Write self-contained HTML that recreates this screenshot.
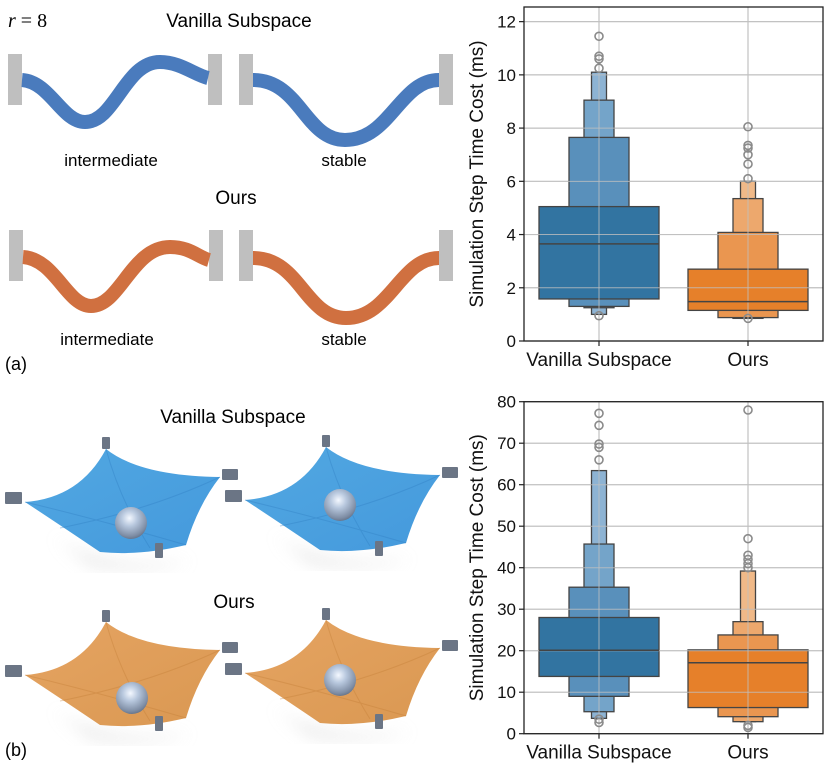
<!DOCTYPE html>
<html><head><meta charset="utf-8"><style>
body{margin:0;background:#fff;width:830px;height:768px;overflow:hidden;font-family:"Liberation Sans",sans-serif}
svg{position:absolute;left:0;top:0}
</style></head><body>
<svg id="fig" width="830" height="768" font-family="Liberation Sans, sans-serif">
<defs>
<radialGradient id="ball" cx="0.45" cy="0.35" r="0.7"><stop offset="0" stop-color="#f4f8ff"/><stop offset="0.35" stop-color="#b8c8de"/><stop offset="0.8" stop-color="#7f8ea5"/><stop offset="1" stop-color="#5d6a80"/></radialGradient>
<linearGradient id="blueCloth" x1="0" y1="0" x2="1" y2="1"><stop offset="0" stop-color="#52a8e2"/><stop offset="1" stop-color="#4499dc"/></linearGradient>
<linearGradient id="orCloth" x1="0" y1="0" x2="1" y2="1"><stop offset="0" stop-color="#e5a462"/><stop offset="1" stop-color="#da9852"/></linearGradient>
<filter id="blur"><feGaussianBlur stdDeviation="8"/></filter>
</defs>

<g>
<text x="8" y="27" font-size="20" font-family="Liberation Serif, serif" font-style="italic">r <tspan font-style="normal">= 8</tspan></text>
<text x="239" y="27" font-size="19" text-anchor="middle">Vanilla Subspace</text>
<g fill="#bfbfbf">
<rect x="8" y="54" width="14" height="51"/><rect x="208" y="54" width="14" height="51"/>
<rect x="239" y="54" width="14" height="51"/><rect x="439" y="54" width="14" height="51"/>
<rect x="9" y="230" width="14" height="51"/><rect x="209" y="230" width="14" height="51"/>
<rect x="239" y="230" width="14" height="51"/><rect x="439" y="230" width="14" height="51"/>
</g>
<g fill="none" stroke-width="14">
<path d="M22,80 C50,82 62,122 85,122 C115,122 125,62 160,62 C180,62 195,75 208,78" stroke="#4a7bbd"/>
<path d="M253,80 C300,80 305,140 345,140 C390,140 400,80 439,80" stroke="#4a7bbd"/>
<path d="M23,257 C55,259 67,306 91,306 C120,306 132,247 170,247 C190,247 198,257 209,260" stroke="#d07040"/>
<path d="M253,258 C300,258 305,318 346,318 C390,318 400,258 439,258" stroke="#d07040"/>
</g>
<text x="111" y="166" font-size="17" text-anchor="middle">intermediate</text>
<text x="344" y="166" font-size="17" text-anchor="middle">stable</text>
<text x="236" y="204" font-size="19" text-anchor="middle">Ours</text>
<text x="107" y="345" font-size="17" text-anchor="middle">intermediate</text>
<text x="344" y="345" font-size="17" text-anchor="middle">stable</text>
<text x="5" y="370" font-size="18">(a)</text>
</g>

<g id="panelb">
<text x="233" y="423" font-size="19" text-anchor="middle">Vanilla Subspace</text>
<text x="234" y="608" font-size="19" text-anchor="middle">Ours</text>
<text x="5" y="756" font-size="18">(b)</text>
</g>

<g id="chart1"></g>
<g id="chart2"></g>
</svg>
<script>
const categories = ["Vanilla Subspace", "Ours"];
const topVanillaLevels = [[1.58, 5.05], [1.3, 7.65], [1.25, 9.05], [1.0, 10.1]];
const topVanillaMedian = 3.65;
const topVanillaOutliers = [11.45, 10.7, 10.6, 10.25, 0.95];
const topOursLevels = [[1.15, 2.7], [0.88, 4.08], [0.85, 5.35], [0.85, 6.0]];
const topOursMedian = 1.48;
const topOursOutliers = [8.05, 7.35, 7.25, 7.0, 6.65, 6.1, 0.85];
const topTicks = [0, 2, 4, 6, 8, 10, 12];
const botVanillaLevels = [[13.8, 28], [9, 35.3], [5.3, 45.7], [3.7, 63.4]];
const botVanillaMedian = 20.1;
const botVanillaOutliers = [77.2, 74.3, 69.8, 69, 66, 3.5, 2.7];
const botOursLevels = [[6.3, 20.2], [4.1, 23.8], [2.9, 27], [2.9, 39.2]];
const botOursMedian = 17.1;
const botOursOutliers = [78, 47, 43, 42, 41, 40, 2, 1.5];
const botTicks = [0, 10, 20, 30, 40, 50, 60, 70, 80];

const NS = "http://www.w3.org/2000/svg";
function mk(tag, attrs, parent) {
  const e = document.createElementNS(NS, tag);
  for (const k in attrs) e.setAttribute(k, attrs[k]);
  parent.appendChild(e);
  return e;
}
const blues = ["#3274a1", "#5990bb", "#74a4c9", "#8db3d3"];
const oranges = ["#e6802a", "#ea9650", "#eda86d", "#f0b988"];
const halfW = [60, 30, 15, 7.5];

function drawChart(g, top, bottom, yMax, ticks, levelsArr, medians, outliersArr) {
  const L = 524, R = 823;
  const y = v => bottom - v / yMax * (bottom - top);
  const centers = [599, 748];
  ticks.forEach(t => {
    const gl = mk("line", {x1: L, x2: R, y1: y(t), y2: y(t), stroke: "#c8c8c8", "stroke-width": 1.2}, g);
    
    
  });
  centers.forEach(cx => {
    const vl = mk("line", {x1: cx, x2: cx, y1: top, y2: bottom, stroke: "#c8c8c8", "stroke-width": 1.2}, g);
    
    
  });
  levelsArr.forEach((levels, ci) => {
    const cols = ci === 0 ? blues : oranges;
    for (let li = levels.length - 1; li >= 0; li--) {
      const [lo, hi] = levels[li];
      const r = mk("rect", {x: centers[ci] - halfW[li], width: halfW[li] * 2, y: y(hi), height: y(lo) - y(hi), fill: cols[li], stroke: "#444", "stroke-width": 1.3}, g);
      
      
    }
  });
  centers.forEach(cx => {
    const vl = mk("line", {x1: cx, x2: cx, y1: top, y2: bottom, stroke: "#c0c0c0", "stroke-width": 1, opacity: 0.8}, g);
    
    
  });
  ticks.forEach(t => {
    const gl = mk("line", {x1: L, x2: R, y1: y(t), y2: y(t), stroke: "#c0c0c0", "stroke-width": 1, opacity: 0.8}, g);
    
    
  });
  medians.forEach((m, ci) => {
    const ml = mk("line", {x1: centers[ci] - 60, x2: centers[ci] + 60, y1: y(m), y2: y(m), stroke: "#444", "stroke-width": 1.5}, g);
    
    
  });
  outliersArr.forEach((os, ci) => {
    os.forEach(v => {
      const c = mk("circle", {cx: centers[ci], cy: y(v), r: 4, fill: "none", stroke: "#8a8a8a", "stroke-width": 1.6}, g);
      
      
    });
  });
  const fr = mk("rect", {x: L, y: top, width: R - L, height: bottom - top, fill: "none", stroke: "#222", "stroke-width": 1.3}, g);
  
  
  ticks.forEach(t => {
    const tk = mk("line", {x1: L - 5, x2: L, y1: y(t), y2: y(t), stroke: "#222", "stroke-width": 1.2}, g);
    
    
    const tl = mk("text", {x: L - 8, y: y(t) + 6, "font-size": 17, "text-anchor": "end", fill: "#111"}, g);
    tl.textContent = t;
    
    
  });
  categories.forEach((c, ci) => {
    const tk = mk("line", {x1: centers[ci], x2: centers[ci], y1: bottom, y2: bottom + 5, stroke: "#222", "stroke-width": 1.2}, g);
    
    
    const tl = mk("text", {x: centers[ci], y: bottom + 25, "font-size": 19, "text-anchor": "middle", fill: "#111"}, g);
    tl.textContent = c;
    
    
  });
  const yt = mk("text", {x: 0, y: 0, "font-size": 19, "text-anchor": "middle", fill: "#111", transform: `translate(483,${(top + bottom) / 2}) rotate(-90)`}, g);
  yt.textContent = "Simulation Step Time Cost (ms)";
  
  
}
drawChart(document.getElementById("chart1"), 7, 341, 12.55, topTicks,
  [topVanillaLevels, topOursLevels], [topVanillaMedian, topOursMedian], [topVanillaOutliers, topOursOutliers]);
drawChart(document.getElementById("chart2"), 401.7, 733.7, 80, botTicks,
  [botVanillaLevels, botOursLevels], [botVanillaMedian, botOursMedian], [botVanillaOutliers, botOursOutliers]);

const pb = document.getElementById("panelb");
function cloth(dx, dy, fill, edge, bx, by) {
  const g = mk("g", {transform: `translate(${dx},${dy})`}, pb);
  
  
  mk("path", {d: "M45,530 Q100,575 190,560 Q150,575 90,565 Z", fill: "#dcdcdc", filter: "url(#blur)", opacity: 0.7}, g);
  mk("path", {d: "M106,449 Q140,476 220,477 Q198,505 186,545 Q140,556 100,552 Q60,525 25,502 Q80,498 106,449 Z", fill: fill}, g);
  mk("path", {d: "M25,502 Q100,520 186,545 M106,449 Q120,500 150,548 M220,477 Q150,510 60,528", stroke: edge, "stroke-width": 1, fill: "none", opacity: 0.35}, g);
  mk("circle", {cx: bx, cy: by, r: 16, fill: "url(#ball)"}, g);
  [[102, 437, 8, 12], [5, 492, 17, 12], [222, 469, 16, 11], [155, 543, 8, 15]].forEach(b => {
    mk("rect", {x: b[0], y: b[1], width: b[2], height: b[3], fill: "#6b7585", rx: 1}, g);
  });
}
cloth(0, 0, "url(#blueCloth)", "#2f7cc0", 131, 523);
cloth(220, -2, "url(#blueCloth)", "#2f7cc0", 120, 507);
cloth(0, 173, "url(#orCloth)", "#c07a35", 132, 525);
cloth(220, 171, "url(#orCloth)", "#c07a35", 120, 509);
</script>
</body></html>
